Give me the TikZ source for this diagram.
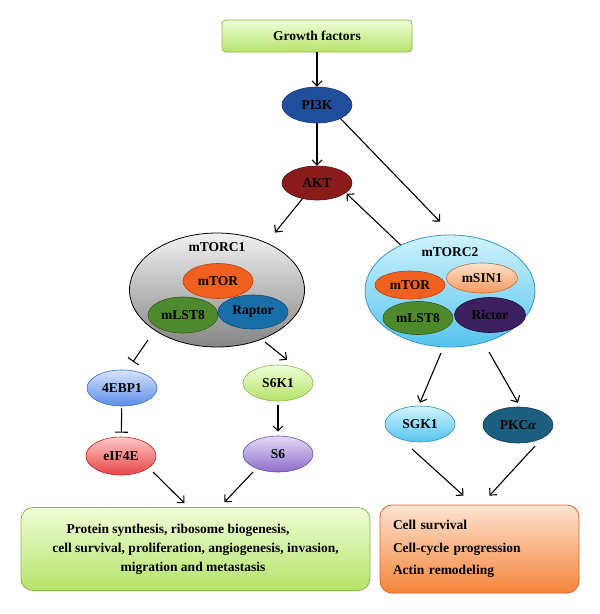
\documentclass[tikz,border=0pt]{standalone}
\usepackage{fontspec}
\setmainfont{Liberation Serif}
\usetikzlibrary{shapes.geometric,arrows.meta,calc}
\definecolor{gfTop}{HTML}{F0FDD6}
\definecolor{gfBot}{HTML}{B4E46A}
\definecolor{gfLine}{HTML}{86B84A}
\definecolor{piFill}{HTML}{1E4E9C}
\definecolor{piLine}{HTML}{15386F}
\definecolor{aktFill}{HTML}{8A1B1B}
\definecolor{aktLine}{HTML}{5A0E0E}
\definecolor{cOneTop}{HTML}{F2F2F2}
\definecolor{cOneBot}{HTML}{858585}
\definecolor{torFill}{HTML}{F2601F}
\definecolor{torLine}{HTML}{B84210}
\definecolor{lstFill}{HTML}{4E8A2C}
\definecolor{lstLine}{HTML}{2E5A18}
\definecolor{rapFill}{HTML}{1A6EA8}
\definecolor{rapLine}{HTML}{0E4A78}
\definecolor{cTwoTop}{HTML}{CFF3FD}
\definecolor{cTwoBot}{HTML}{55C4EE}
\definecolor{cTwoLine}{HTML}{3597CC}
\definecolor{sinTop}{HTML}{FDE2CC}
\definecolor{sinBot}{HTML}{F59A5E}
\definecolor{sinLine}{HTML}{D0682E}
\definecolor{ricFill}{HTML}{3B1F5E}
\definecolor{ricLine}{HTML}{1E0F38}
\definecolor{ebpTop}{HTML}{D6E4FD}
\definecolor{ebpBot}{HTML}{5B8DE8}
\definecolor{ebpLine}{HTML}{3A68C0}
\definecolor{eifTop}{HTML}{FFC8C8}
\definecolor{eifBot}{HTML}{E84646}
\definecolor{eifLine}{HTML}{C02222}
\definecolor{sixTop}{HTML}{E4DAF7}
\definecolor{sixBot}{HTML}{8C6DC9}
\definecolor{sixLine}{HTML}{6A4CA8}
\definecolor{sgkTop}{HTML}{D2F4FD}
\definecolor{sgkBot}{HTML}{55C4EE}
\definecolor{sgkLine}{HTML}{2A90C0}
\definecolor{pkcFill}{HTML}{1B5E80}
\definecolor{pkcLine}{HTML}{0C3A55}
\definecolor{orTop}{HTML}{FDE3D0}
\definecolor{orBot}{HTML}{F5853A}
\definecolor{orLine}{HTML}{E2612A}
\begin{document}
\begin{tikzpicture}[x=1pt,y=-1pt,
  lbl/.style={font=\fontsize{13.5}{15}\selectfont\bfseries},
  ell/.style={ellipse, draw, line width=0.6pt, minimum width=70pt, minimum height=36pt, inner sep=0pt, lbl},
  bigell/.style={ellipse, line width=0.8pt, inner sep=0pt},
  resbox/.style={rectangle, rounded corners=12pt, line width=0.8pt, inner sep=0pt, font=\fontsize{13.5}{19}\selectfont\bfseries},
  arr/.style={line width=1.1pt, -{Straight Barb[length=5pt,width=10pt]}},
  inh/.style={line width=1.1pt, -{Bar[width=13pt,line width=1.1pt]}}
]
\useasboundingbox (0,0) rectangle (600,614);
% top
\node[rectangle, rounded corners=4pt, draw=gfLine, line width=0.8pt, top color=gfTop, bottom color=gfBot,
      minimum width=190pt, minimum height=32pt, lbl] (gf) at (317,36) {Growth factors};
\node[ell, fill=piFill, draw=piLine] (pi3k) at (317,105) {PI3K};
\node[ell, minimum height=34pt, fill=aktFill, draw=aktLine] (akt) at (317,183) {AKT};
% mTORC1
\node[bigell, draw=black, minimum width=175pt, minimum height=114pt, top color=cOneTop, bottom color=cOneBot] (c1) at (217,290) {};
\node[lbl] (c1lbl) at (217,247) {mTORC1};
\node[ell, fill=torFill, draw=torLine, minimum height=35pt] (tor1) at (218,281) {mTOR};
\node[ell, fill=lstFill, draw=lstLine] (lst1) at (183,315) {mLST8};
\node[ell, fill=rapFill, draw=rapLine, minimum height=34pt] (rap) at (253,312) {Raptor};
% mTORC2
\node[bigell, draw=cTwoLine, minimum width=170pt, minimum height=112pt, top color=cTwoTop, bottom color=cTwoBot] (c2) at (450,291) {};
\node[lbl] (c2lbl) at (450,252) {mTORC2};
\node[ell, fill=torFill, draw=torLine, minimum height=28pt] (tor2) at (410,285) {mTOR};
\node[ell, top color=sinTop, bottom color=sinBot, draw=sinLine, minimum width=71pt, minimum height=30pt] (sin) at (482,278) {mSIN1};
\node[ell, fill=lstFill, draw=lstLine, minimum height=33pt] (lst2) at (418,318) {mLST8};
\node[ell, fill=ricFill, draw=ricLine, minimum width=71pt, minimum height=35pt] (ric) at (490,315) {Rictor};
% downstream mTORC1
\node[ell, top color=ebpTop, bottom color=ebpBot, draw=ebpLine] (ebp) at (122,388) {4EBP1};
\node[ell, top color=gfTop, bottom color=gfBot, draw=gfLine] (s6k) at (278,383) {S6K1};
\node[ell, top color=eifTop, bottom color=eifBot, draw=eifLine, minimum height=38pt] (eif) at (121,456) {eIF4E};
\node[ell, top color=sixTop, bottom color=sixBot, draw=sixLine] (six) at (278,454) {S6};
% downstream mTORC2
\node[ell, top color=sgkTop, bottom color=sgkBot, draw=sgkLine] (sgk) at (420,424) {SGK1};
\node[ell, fill=pkcFill, draw=pkcLine] (pkc) at (518,425) {PKC\textit{α}};
% results
\node[resbox, draw=gfLine, top color=gfTop, bottom color=gfBot, minimum width=349pt, minimum height=83pt, align=center] (res1) at (195.5,549)
  {\rule{0pt}{10pt}Protein synthesis, ribosome biogenesis,\hspace*{35pt}\\
   cell survival, proliferation, angiogenesis, invasion,\hspace*{35pt}\\
   migration and metastasis\hspace*{5pt}};
\node[resbox, draw=orLine, top color=orTop, bottom color=orBot, minimum width=199pt, minimum height=88pt,
      text width=173pt, align=left, font=\fontsize{13.5}{22.5}\selectfont\bfseries] (res2) at (479.5,549)
  {Cell survival\\ Cell-cycle progression\\ Actin remodeling};
% connectors
\draw[arr] (gf) -- (pi3k);
\draw[arr] (pi3k) -- (akt);
\draw[arr] (pi3k.-30) -- ($(c2.north)+(-10,-13)$);
\draw[arr, shorten >=1pt] (c2.137) -- (akt.-19);
\draw[arr] (akt.227) -- ($(c1.north)+(58,0)$);
\draw[inh] ($(c1)+(-69,50)$) -- ($(ebp.north)+(11,-8)$);
\draw[arr] ($(c1)+(48,52)$) -- ($(s6k.north)+(9,-5)$);
\draw[inh, shorten <=2pt, shorten >=4pt] (ebp) -- (eif);
\draw[arr, shorten <=4pt, shorten >=4pt] (s6k) -- (six);
\draw[arr] ($(eif)+(32,16)$) -- ($(res1.north)+(-11,-4)$);
\draw[arr] ($(six)+(-25,18)$) -- ($(res1.north)+(29,-5)$);
\draw[arr] ($(c2)+(-9,62)$) -- ($(sgk.north)+(0,-3)$);
\draw[arr] ($(c2)+(39,61)$) -- ($(pkc.north)+(0,-4)$);
\draw[arr] ($(sgk)+(-8,25)$) -- ($(res2.north)+(-16,-9)$);
\draw[arr] ($(pkc)+(17,21)$) -- ($(res2.north)+(10,-9)$);
\end{tikzpicture}
\end{document}
